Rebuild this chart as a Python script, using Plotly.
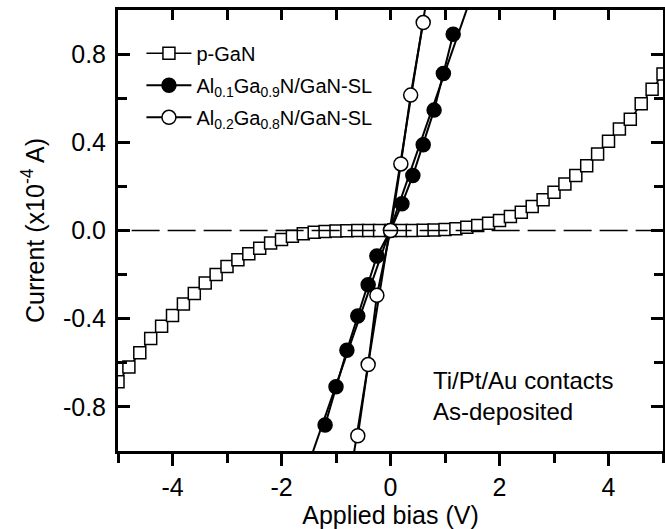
import numpy as np
import plotly.graph_objects as go

# ---------------- data ----------------
pgan_v = [-5.0, -4.8, -4.6, -4.4, -4.2, -4.0, -3.8, -3.6, -3.4, -3.2, -3.0, -2.8, -2.6, -2.4,
          -2.2, -2.0, -1.8, -1.6, -1.4, -1.2, -1.0, -0.8, -0.6, -0.4, -0.2, 0.0, 0.2, 0.4,
          0.6, 0.8, 1.0, 1.2, 1.4, 1.6, 1.8, 2.0, 2.2, 2.4, 2.6, 2.8, 3.0, 3.2, 3.4, 3.6,
          3.8, 4.0, 4.2, 4.4, 4.6, 4.8, 5.0]
pgan_i = [-0.686, -0.619, -0.554, -0.490, -0.434, -0.385, -0.333, -0.286, -0.238, -0.199,
          -0.163, -0.133, -0.106, -0.080, -0.057, -0.041, -0.026, -0.015, -0.008, -0.004,
          -0.002, -0.001, 0.0, 0.0, 0.0, 0.0, 0.0, 0.0, 0.001, 0.002, 0.004, 0.008, 0.015,
          0.023, 0.033, 0.045, 0.063, 0.083, 0.109, 0.139, 0.173, 0.211, 0.249, 0.294,
          0.347, 0.405, 0.460, 0.505, 0.575, 0.641, 0.710]

sl01_v = [-1.2, -1.0, -0.8, -0.6, -0.41, -0.25, 0.0, 0.21, 0.41, 0.60, 0.80, 0.97, 1.15]
sl01_i = [-0.882, -0.709, -0.543, -0.388, -0.246, -0.116, 0.0, 0.121, 0.249, 0.389, 0.546, 0.712, 0.89]

sl02_v = [-0.60, -0.41, -0.25, 0.0, 0.19, 0.37, 0.60]
sl02_i = [-0.931, -0.608, -0.294, 0.0, 0.302, 0.614, 0.943]

names = ["p-GaN", "Al<sub>0.1</sub>Ga<sub>0.9</sub>N/GaN-SL", "Al<sub>0.2</sub>Ga<sub>0.8</sub>N/GaN-SL"]

x_range = [-5, 5]
y_range = [-1, 1]
x_tickvals = [-4, -2, 0, 2, 4]
x_ticktext = ["-4", "-2", "0", "2", "4"]
x_minorvals = [-5, -3, -1, 1, 3, 5]
x_topvals = [-5, -4, -3, -2, -1, 0, 1, 2, 3, 4, 5]
y_tickvals = [-0.8, -0.4, 0.0, 0.4, 0.8]
y_ticktext = ["-0.8", "-0.4", "0.0", "0.4", "0.8"]
y_minorvals = [-1.0, -0.6, -0.2, 0.2, 0.6, 1.0]

FONT = "Liberation Sans, Arial, sans-serif"
FS = 25

fig = go.Figure()

# linear fits for the superlattice samples, drawn across the full bias range
for v, i in [(sl01_v, sl01_i), (sl02_v, sl02_i)]:
    p = np.polyfit(v, i, 1)
    xs = np.array(x_range, dtype=float)
    fig.add_trace(go.Scatter(x=xs, y=np.polyval(p, xs), mode="lines",
                             line=dict(color="black", width=2),
                             showlegend=False, hoverinfo="skip"))

fig.add_trace(go.Scatter(
    x=pgan_v, y=pgan_i, mode="lines+markers", name=names[0], legendgroup="a",
    line=dict(color="black", width=1.5),
    marker=dict(symbol="square", size=12, color="white", line=dict(color="black", width=1.5))))

fig.add_trace(go.Scatter(
    x=sl01_v, y=sl01_i, mode="lines+markers", name=names[1], legendgroup="b",
    line=dict(color="black", width=2),
    marker=dict(symbol="circle", size=14, color="black", line=dict(color="black", width=1.5))))

fig.add_trace(go.Scatter(
    x=sl02_v, y=sl02_i, mode="lines+markers", name=names[2], legendgroup="c",
    line=dict(color="black", width=2),
    marker=dict(symbol="circle", size=14, color="white", line=dict(color="black", width=1.5))))

# dummy trace so the top axis is drawn
fig.add_trace(go.Scatter(x=[None], y=[None], xaxis="x2", showlegend=False, hoverinfo="skip"))

# dashed zero line
fig.add_shape(type="line", xref="x domain", yref="y", x0=0.025, x1=1, y0=0, y1=0,
              line=dict(color="black", width=1.5, dash="28px,8px"), layer="above")

fig.add_annotation(text="Ti/Pt/Au contacts<br>As-deposited", x=0.735, y=-0.61,
                   xref="x", yref="y", xanchor="left", yanchor="top", align="left",
                   showarrow=False, font=dict(family=FONT, size=24, color="black"))

fig.update_layout(
    width=665, height=529,
    margin=dict(l=118, r=2, t=10, b=78, autoexpand=False),
    paper_bgcolor="white", plot_bgcolor="white",
    font=dict(family=FONT, size=FS, color="black"),
    showlegend=True,
    legend=dict(x=0.043, y=0.946, xanchor="left", yanchor="top", itemwidth=45,
                bgcolor="rgba(0,0,0,0)", font=dict(family=FONT, size=20, color="black"),
                tracegroupgap=3),
    xaxis=dict(range=x_range, tickmode="array", tickvals=x_tickvals, ticktext=x_ticktext,
               ticks="outside", ticklen=12, tickwidth=3, tickcolor="black", automargin=False,
               minor=dict(tickmode="array", tickvals=x_minorvals, ticks="outside",
                          ticklen=9, tickwidth=3, tickcolor="black"),
               showline=True, linewidth=3, linecolor="black", showgrid=False, zeroline=False,
               title=dict(text="Applied bias (V)", font=dict(size=FS), standoff=2),
               tickfont=dict(size=FS)),
    xaxis2=dict(range=x_range, overlaying="x", side="top", anchor="y", automargin=False,
                tickmode="array", tickvals=x_topvals, ticks="inside", ticklen=10,
                tickwidth=3, tickcolor="black", showticklabels=False,
                showline=True, linewidth=3, linecolor="black", showgrid=False, zeroline=False),
    yaxis=dict(range=y_range, tickmode="array", tickvals=y_tickvals, ticktext=y_ticktext,
               ticks="inside", ticklen=12, tickwidth=3, tickcolor="black", automargin=False,
               minor=dict(tickmode="array", tickvals=y_minorvals, ticks="inside",
                          ticklen=9, tickwidth=3, tickcolor="black"),
               mirror="ticks", showline=True, linewidth=3, linecolor="black",
               showgrid=False, zeroline=False, ticklabelstandoff=4,
               title=dict(text="Current (x10<sup>-4</sup> A)", font=dict(size=FS), standoff=12),
               tickfont=dict(size=FS)),
)

# remove the browser's default 8px body margin so the figure fills the window exactly
fig.write_html("out.html", config={"displayModeBar": False},
               post_script="document.body.style.margin='0';document.body.style.overflow='hidden';")
